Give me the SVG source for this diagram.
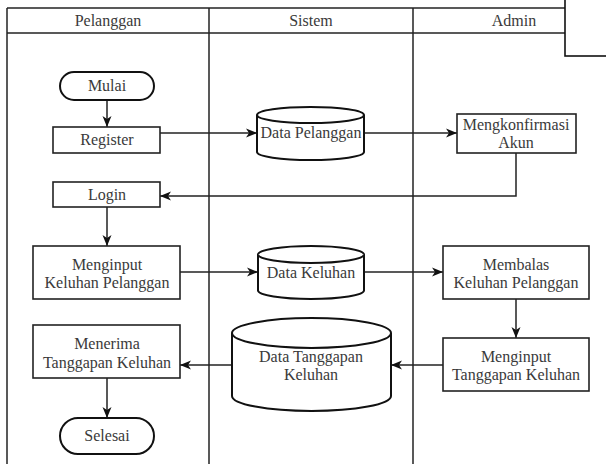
<svg xmlns="http://www.w3.org/2000/svg" width="606" height="464" viewBox="0 0 606 464">
  <style>
    .lane { fill: none; stroke: #222; stroke-width: 1.5; }
    .box { fill: #fff; stroke: #222; stroke-width: 1.6; }
    .term { fill: #fff; stroke: #111; stroke-width: 2; }
    .db { fill: #fff; stroke: #111; stroke-width: 2; }
    .edge { fill: none; stroke: #222; stroke-width: 1.5; }
    text { font-family: 'Liberation Serif', 'DejaVu Serif', 'Times New Roman', Times, serif; font-size: 16px; fill: #3a3a3a; text-anchor: middle; }
  </style>
  <defs>
    <marker id="arrow" markerUnits="userSpaceOnUse" markerWidth="12" markerHeight="10" viewBox="0 0 12 10" refX="11" refY="5" orient="auto">
      <path d="M0,0.5 L11,5 L0,9.5 L3,5 Z" fill="#111"/>
    </marker>
  </defs>

  <rect width="606" height="464" fill="#fff"/>

  <!-- swimlane table -->
  <g id="lanes">
    <line class="lane" x1="7" y1="8" x2="620" y2="8"/>
    <line class="lane" x1="7" y1="33" x2="620" y2="33"/>
    <line class="lane" x1="7" y1="8" x2="7" y2="464"/>
    <line class="lane" x1="209" y1="8" x2="209" y2="464"/>
    <line class="lane" x1="413" y1="8" x2="413" y2="464"/>
    <text x="108" y="26">Pelanggan</text>
    <text x="311" y="26">Sistem</text>
    <text x="514" y="26">Admin</text>
  </g>

  <!-- corner panel -->
  <g id="corner">
    <rect x="565" y="-2" width="50" height="58" fill="#fff" stroke="#111" stroke-width="1.6"/>
  </g>

  <!-- connectors -->
  <g id="connectors">
    <line class="edge" x1="107" y1="100" x2="107" y2="127" marker-end="url(#arrow)"/>
    <line class="edge" x1="160" y1="133" x2="257" y2="133" marker-end="url(#arrow)"/>
    <line class="edge" x1="364" y1="133" x2="457" y2="133" marker-end="url(#arrow)"/>
    <polyline class="edge" points="516,153 516,196 160,196" marker-end="url(#arrow)"/>
    <line class="edge" x1="107" y1="207" x2="107" y2="246" marker-end="url(#arrow)"/>
    <line class="edge" x1="180" y1="272" x2="258" y2="272" marker-end="url(#arrow)"/>
    <line class="edge" x1="364" y1="272" x2="443" y2="272" marker-end="url(#arrow)"/>
    <line class="edge" x1="516" y1="299" x2="516" y2="338" marker-end="url(#arrow)"/>
    <line class="edge" x1="443" y1="365" x2="391" y2="365" marker-end="url(#arrow)"/>
    <line class="edge" x1="232" y1="365" x2="180" y2="365" marker-end="url(#arrow)"/>
    <line class="edge" x1="107" y1="378" x2="107" y2="418" marker-end="url(#arrow)"/>
  </g>

  <!-- Pelanggan lane -->
  <g id="mulai">
    <rect class="term" x="60" y="72" width="94" height="28" rx="14" ry="14"/>
    <text x="107" y="91">Mulai</text>
  </g>
  <g id="register">
    <rect class="box" x="53" y="127" width="107" height="26"/>
    <text x="107" y="145">Register</text>
  </g>
  <g id="login">
    <rect class="box" x="53" y="182" width="107" height="25"/>
    <text x="107" y="200">Login</text>
  </g>
  <g id="menginput-keluhan">
    <rect class="box" x="33" y="246" width="147" height="53"/>
    <text x="107" y="270">Menginput</text>
    <text x="107" y="288">Keluhan Pelanggan</text>
  </g>
  <g id="menerima-tanggapan">
    <rect class="box" x="33" y="325" width="147" height="53"/>
    <text x="107" y="349">Menerima</text>
    <text x="107" y="368">Tanggapan Keluhan</text>
  </g>
  <g id="selesai">
    <rect class="term" x="60" y="418" width="94" height="36" rx="18" ry="18"/>
    <text x="107" y="441">Selesai</text>
  </g>

  <!-- Sistem lane -->
  <g id="data-pelanggan">
    <path class="db" d="M257,115 A53.5,8 0 0 1 364,115 L364,152 A53.5,8 0 0 1 257,152 Z"/>
    <path class="db" fill="none" d="M257,115 A53.5,8 0 0 0 364,115"/>
    <text x="311" y="138">Data Pelanggan</text>
  </g>
  <g id="data-keluhan">
    <path class="db" d="M258,254.5 A53,8.5 0 0 1 364,254.5 L364,290.5 A53,8.5 0 0 1 258,290.5 Z"/>
    <path class="db" fill="none" d="M258,254.5 A53,8.5 0 0 0 364,254.5"/>
    <text x="311" y="278">Data Keluhan</text>
  </g>
  <g id="data-tanggapan">
    <path class="db" d="M232,333 A79.5,15 0 0 1 391,333 L391,396 A79.5,15 0 0 1 232,396 Z"/>
    <path class="db" fill="none" d="M232,333 A79.5,15 0 0 0 391,333"/>
    <text x="311" y="362">Data Tanggapan</text>
    <text x="311" y="380">Keluhan</text>
  </g>

  <!-- Admin lane -->
  <g id="mengkonfirmasi">
    <rect class="box" x="457" y="114" width="119" height="39"/>
    <text x="516" y="130">Mengkonfirmasi</text>
    <text x="516" y="148">Akun</text>
  </g>
  <g id="membalas">
    <rect class="box" x="443" y="246" width="146" height="53"/>
    <text x="516" y="270">Membalas</text>
    <text x="516" y="288">Keluhan Pelanggan</text>
  </g>
  <g id="menginput-tanggapan">
    <rect class="box" x="443" y="338" width="146" height="53"/>
    <text x="516" y="362">Menginput</text>
    <text x="516" y="380">Tanggapan Keluhan</text>
  </g>
</svg>
